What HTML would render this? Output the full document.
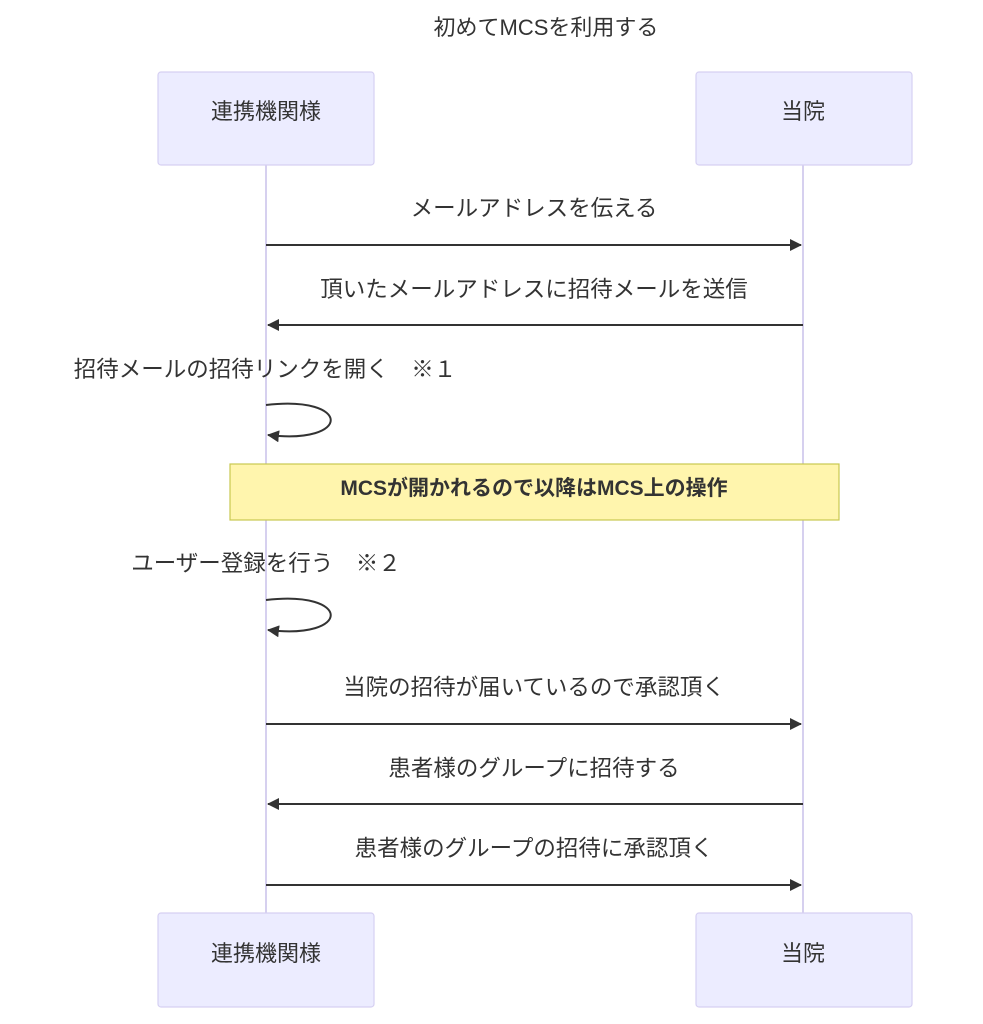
<!DOCTYPE html>
<html><head><meta charset="utf-8"><style>
html,body{margin:0;padding:0;background:#fff;}
svg{display:block;}
text{font-family:"Liberation Sans","Noto Sans CJK JP",sans-serif;fill:#333;}
</style></head><body>
<svg width="983" height="1024" viewBox="0 0 983 1024" xmlns="http://www.w3.org/2000/svg">
<defs>
<marker id="ah" viewBox="0 0 12 12" refX="11" refY="6" markerWidth="12" markerHeight="12" markerUnits="userSpaceOnUse" orient="auto">
<path d="M0,0 L12,6 L0,12 z" fill="#333"/></marker>
</defs>
<text x="546" y="35" font-size="22" text-anchor="middle">初めてMCSを利用する</text>
<line x1="266" y1="165" x2="266" y2="913" stroke="#c8c0ea" stroke-width="1.5"/>
<line x1="803" y1="165" x2="803" y2="913" stroke="#c8c0ea" stroke-width="1.5"/>
<g fill="#ececff" stroke="#d6d0f2" stroke-width="1.2">
<rect x="158" y="72" width="216" height="93" rx="3"/>
<rect x="696" y="72" width="216" height="93" rx="3"/>
<rect x="158" y="913" width="216" height="94" rx="3"/>
<rect x="696" y="913" width="216" height="94" rx="3"/>
</g>
<g font-size="22" text-anchor="middle">
<text x="266" y="119">連携機関様</text>
<text x="803" y="119">当院</text>
<text x="266" y="961">連携機関様</text>
<text x="803" y="961">当院</text>
</g>
<g stroke="#333" stroke-width="2" fill="none" marker-end="url(#ah)">
<line x1="266" y1="245" x2="801" y2="245"/>
<line x1="803" y1="325" x2="268" y2="325"/>
<path d="M266,405 C352,395 352,445 268,435"/>
<path d="M266,600 C352,590 352,640 268,630"/>
<line x1="266" y1="724" x2="801" y2="724"/>
<line x1="803" y1="804" x2="268" y2="804"/>
<line x1="266" y1="885" x2="801" y2="885"/>
</g>
<rect x="230" y="464" width="609" height="56" fill="#fff5ad" stroke="#c8c850" stroke-width="1.2"/>
<g font-size="22.5" text-anchor="middle">
<text x="534" y="216">メールアドレスを伝える</text>
<text x="534" y="297">頂いたメールアドレスに招待メールを送信</text>
<text x="265" y="377">招待メールの招待リンクを開く　※１</text>
<text x="534" y="495" font-weight="bold" font-size="21">MCSが開かれるので以降はMCS上の操作</text>
<text x="266" y="571">ユーザー登録を行う　※２</text>
<text x="534" y="695">当院の招待が届いているので承認頂く</text>
<text x="534" y="776">患者様のグループに招待する</text>
<text x="534" y="856">患者様のグループの招待に承認頂く</text>
</g>
</svg>
</body></html>
